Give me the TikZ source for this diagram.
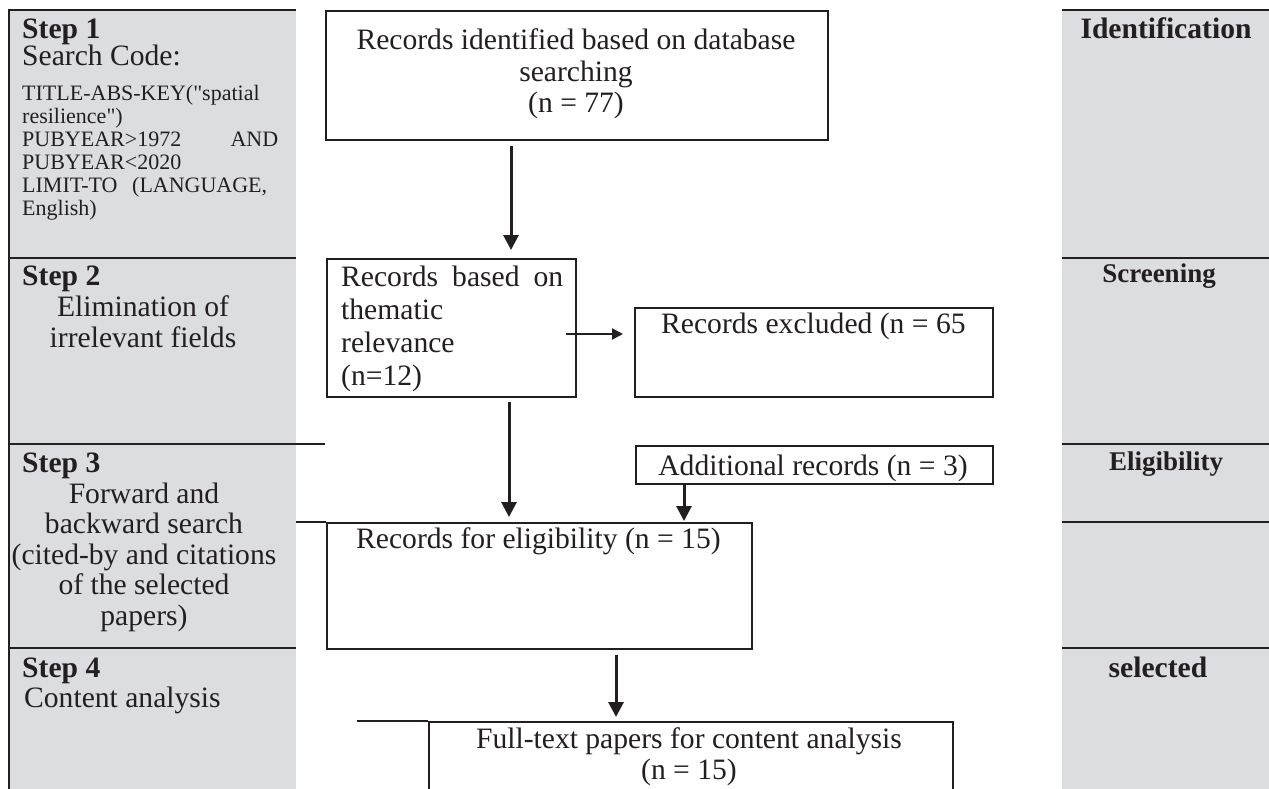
\documentclass[tikz,border=0pt]{standalone}
\usepackage{fontspec}
\setmainfont{Liberation Serif}
\newfontfamily\codefont{Liberation Serif}[Ligatures=TeXOff]
\usetikzlibrary{arrows.meta}
\definecolor{panelgray}{RGB}{220,221,224}
\definecolor{ink}{RGB}{35,31,32}

\begin{document}
\begin{tikzpicture}[x=1pt,y=-1pt,
    box/.style={draw=ink, line width=2pt, inner sep=0pt, anchor=north west},
    txt/.style={text=ink, inner sep=0pt, font=\fontsize{29.6}{31.5}\selectfont},
    small/.style={text=ink, inner sep=0pt, font=\codefont\fontsize{22}{23}\selectfont},
    rule/.style={draw=ink, line width=2.4pt},
    arr/.style={draw=ink, line width=3pt, -{Triangle[width=15pt,length=15pt]}}]

\clip (0,0) rectangle (1269,789);
\fill[white] (0,0) rectangle (1269,789);

% side panels
\fill[panelgray] (9,10) rectangle (296,789);
\fill[panelgray] (1062,10) rectangle (1269,789);
\draw[rule] (9,789) -- (9,10) -- (296,10);
\draw[rule] (9,258) -- (296,258);
\draw[rule] (9,444) -- (325,444);
\draw[rule] (9,648) -- (296,648);
\foreach \y in {10,258,444,522,648}
    \draw[rule] (1062,\y) -- (1269,\y);

% steps
\node[txt, anchor=base west] (st1) at (22,39) {\textbf{Step 1}};
\node[txt, anchor=base west] (st1b) at (22,66) {Search Code:};
\node[small, anchor=base west, text width=256pt, align=left] (code) at (22,101)
    {TITLE-ABS-KEY("spatial\\ resilience")\\ PUBYEAR>1972\hfill AND\\
     PUBYEAR<2020\\ LIMIT-TO\ \ (LANGUAGE,\\ English)};
\node[txt, anchor=base west] (st2) at (22,285) {\textbf{Step 2}};
\node[txt, anchor=base, text width=270pt, align=flush center] (st2b) at (143,316) {Elimination of\\irrelevant fields};
\node[txt, anchor=base west] (st3) at (22,472) {\textbf{Step 3}};
\node[txt, anchor=base, text width=280pt, align=flush center, font=\fontsize{29.6}{30.5}\selectfont] (st3b) at (144,503)
    {Forward and\\backward search\\(cited-by and citations\\of the selected\\papers)};
\node[txt, anchor=base west] (st4) at (22,677) {\textbf{Step 4}};
\node[txt, anchor=base west] (st4b) at (24,707) {Content analysis};

% phases
\node[txt, anchor=base] (ident) at (1166,39) {\textbf{Identification}};
\node[txt, anchor=base, font=\fontsize{27}{28}\selectfont] (screen) at (1159,282) {\textbf{Screening}};
\node[txt, anchor=base, font=\fontsize{27}{28}\selectfont] (elig) at (1166,470) {\textbf{Eligibility}};
\node[txt, anchor=base] (sel) at (1158,677) {\textbf{selected}};

% flow boxes
\node[box, minimum width=502pt, minimum height=129pt] (b1) at (325,10) {};
\node[txt, anchor=base, text width=480pt, align=flush center] (t1) at (576,50)
    {Records identified based on database\\searching\\(n = 77)};
\node[box, minimum width=249pt, minimum height=138pt] (b2) at (326,258) {};
\node[txt, anchor=base west, text width=222pt, align=left, font=\fontsize{29.6}{33}\selectfont] (t2) at (341,286)
    {Records\hfill based\hfill on\\thematic\\relevance\\(n=12)};
\node[box, minimum width=358pt, minimum height=89pt] (b3) at (634,307) {};
\node[txt, anchor=base west] (t3) at (661,333) {Records excluded (n = 65};
\node[box, minimum width=357pt, minimum height=38pt] (b4) at (635,445) {};
\node[txt, anchor=base] (t4) at (813,475) {Additional records (n = 3)};
\node[box, minimum width=425pt, minimum height=126pt] (b5) at (326,522) {};
\node[txt, anchor=base west] (t5) at (356,548) {Records for eligibility (n = 15)};
\node[box, minimum width=524pt, minimum height=90pt] (b6) at (428,721) {};
\node[txt, anchor=base, text width=500pt, align=flush center] (t6) at (689,748)
    {Full-text papers for content analysis\\(n = 15)};

\draw[ink, line width=2pt] (296,522) -- (b5.north west);
\draw[ink, line width=2pt] (357,721) -- (b6.north west);

% arrows
\draw[arr] ([xshift=-66pt,yshift=-5pt]b1.south) -- ([xshift=59.5pt,yshift=8pt]b2.north);
\draw[arr, line width=2.2pt, -{Triangle[width=11pt,length=11pt]}]
    ([xshift=-11pt,yshift=-6pt]b2.east) -- ([xshift=-11pt,yshift=18.5pt]b3.west);
\draw[arr] ([xshift=57.5pt,yshift=-4pt]b2.south) -- ([xshift=-30.5pt,yshift=5pt]b5.north);
\draw[arr] ([xshift=-130.5pt]b4.south) -- ([xshift=144.5pt,yshift=1pt]b5.north);
\draw[arr] ([xshift=76.5pt,yshift=-5pt]b5.south) -- ([xshift=-75pt,yshift=4pt]b6.north);
\end{tikzpicture}
\end{document}
